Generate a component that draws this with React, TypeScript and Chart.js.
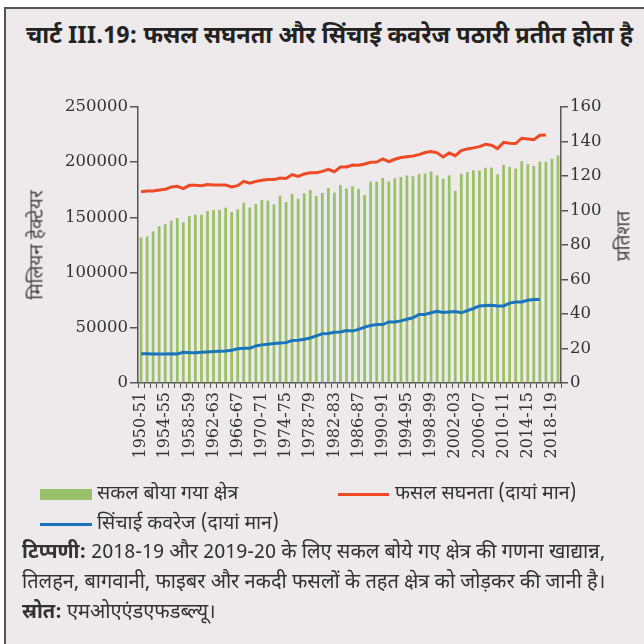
import React, { useEffect, useRef } from "react";
import { Chart, registerables } from "chart.js";

Chart.register(...registerables);

const years: string[] = [
  "1950-51", "1951-52", "1952-53", "1953-54", "1954-55", "1955-56", "1956-57", "1957-58", "1958-59", "1959-60",
  "1960-61", "1961-62", "1962-63", "1963-64", "1964-65", "1965-66", "1966-67", "1967-68", "1968-69", "1969-70",
  "1970-71", "1971-72", "1972-73", "1973-74", "1974-75", "1975-76", "1976-77", "1977-78", "1978-79", "1979-80",
  "1980-81", "1981-82", "1982-83", "1983-84", "1984-85", "1985-86", "1986-87", "1987-88", "1988-89", "1989-90",
  "1990-91", "1991-92", "1992-93", "1993-94", "1994-95", "1995-96", "1996-97", "1997-98", "1998-99", "1999-00",
  "2000-01", "2001-02", "2002-03", "2003-04", "2004-05", "2005-06", "2006-07", "2007-08", "2008-09", "2009-10",
  "2010-11", "2011-12", "2012-13", "2013-14", "2014-15", "2015-16", "2016-17", "2017-18", "2018-19", "2019-20",
];

// सकल बोया गया क्षेत्र (left axis)
const grossSownArea: number[] = [
  131800, 132750, 137300, 142150, 143950, 147000, 149400, 145450, 151250, 152400,
  152400, 155750, 156700, 156700, 158800, 154850, 157300, 163350, 159100, 162150,
  165800, 165150, 161800, 169700, 163950, 171250, 167000, 171800, 174850, 169400,
  172150, 176700, 172450, 179400, 176050, 178200, 176050, 170300, 182450, 182450,
  185750, 182450, 185450, 186650, 187900, 187300, 189400, 189700, 191500, 188200,
  185150, 187900, 173950, 189400, 190900, 192700, 192450, 194850, 195150, 189100,
  197600, 195750, 194250, 200900, 198200, 196650, 200600, 200300, 203050, 206050,
];

// फसल सघनता (right axis)
const cropIntensity: (number | null)[] = [
  110.9, 111.3, 111.3, 111.9, 112.3, 113.6, 114.0, 112.7, 114.6, 114.6,
  114.4, 115.0, 114.8, 114.8, 114.8, 113.6, 114.4, 116.9, 115.9, 116.9,
  117.5, 117.9, 117.9, 118.8, 118.6, 120.8, 119.8, 121.2, 121.9, 121.9,
  122.7, 123.9, 122.5, 125.2, 125.2, 126.4, 126.3, 127.0, 128.0, 128.1,
  129.9, 128.3, 129.7, 130.7, 131.2, 131.6, 132.4, 133.6, 134.2, 133.4,
  131.0, 133.3, 131.8, 134.7, 135.7, 136.3, 137.0, 138.4, 137.8, 135.9,
  139.5, 139.0, 138.8, 141.9, 141.5, 141.1, 143.6, 143.8, null, null,
];

// सिंचाई कवरेज (right axis)
const irrigationCoverage: (number | null)[] = [
  17.0, 17.0, 16.8, 16.8, 16.8, 17.0, 16.8, 17.8, 17.6, 17.6,
  17.8, 18.0, 18.2, 18.4, 18.6, 19.0, 19.8, 20.1, 20.1, 21.5,
  22.1, 22.5, 22.9, 23.2, 23.4, 24.6, 24.8, 25.4, 26.1, 27.3,
  28.5, 28.7, 29.4, 29.6, 30.4, 30.1, 31.1, 32.4, 33.3, 33.9,
  33.9, 35.4, 35.4, 36.0, 37.0, 37.8, 39.7, 39.7, 40.7, 41.6,
  40.9, 41.2, 41.4, 40.7, 42.0, 43.2, 44.7, 44.9, 45.1, 44.7,
  44.7, 46.3, 46.9, 47.0, 48.0, 48.4, 48.4, null, null, null,
];

const leftTicks: number[] = [0, 50000, 100000, 150000, 200000, 250000];
const rightTicks: number[] = [0, 20, 40, 60, 80, 100, 120, 140, 160];

const hindi = "'Liberation Sans Narrow', 'Noto Sans Devanagari', 'Lohit Devanagari', 'FreeSans', 'Noto Sans', sans-serif";
const GREEN = "#98c16a";
const RED = "#ef4a24";
const BLUE = "#1874bd";
const AXIS = "#555555";
const TXT = "#333333";

export default function App() {
  const ref = useRef<HTMLCanvasElement | null>(null);

  useEffect(() => {
    if (!ref.current) return;
    const tickFont = { family: "'DejaVu Serif', serif", size: 16 };
    const chart = new Chart(ref.current, {
      type: "bar",
      data: {
        labels: years,
        datasets: [
          {
            type: "line",
            label: "फसल सघनता (दायां मान)",
            data: cropIntensity,
            borderColor: RED,
            backgroundColor: RED,
            borderWidth: 3,
            pointRadius: 0,
            tension: 0,
            yAxisID: "y1",
            order: 0,
          },
          {
            type: "line",
            label: "सिंचाई कवरेज (दायां मान)",
            data: irrigationCoverage,
            borderColor: BLUE,
            backgroundColor: BLUE,
            borderWidth: 3,
            pointRadius: 0,
            tension: 0,
            yAxisID: "y1",
            order: 0,
          },
          {
            type: "bar",
            label: "सकल बोया गया क्षेत्र",
            data: grossSownArea,
            backgroundColor: GREEN,
            barPercentage: 0.45,
            categoryPercentage: 1,
            yAxisID: "y",
            order: 1,
          },
        ],
      },
      options: {
        responsive: false,
        animation: false,
        layout: { padding: { top: 107, left: 0, right: 0, bottom: 161 } },
        plugins: { legend: { display: false }, tooltip: { enabled: false } },
        scales: {
          x: {
            grid: { drawOnChartArea: false, tickLength: 5, color: AXIS, lineWidth: 1, offset: true },
            border: { color: AXIS, width: 1.5 },
            ticks: {
              autoSkip: false,
              maxRotation: 90,
              minRotation: 90,
              padding: 4,
              color: TXT,
              font: tickFont,
              callback: (_v: any, i: number) => (i % 4 === 0 ? years[i] : ""),
            },
            afterFit: (s: any) => {
              s.height = 100;
            },
          },
          y: {
            position: "left",
            min: 0,
            max: 250000,
            afterBuildTicks: (s: any) => {
              s.ticks = leftTicks.map((v) => ({ value: v }));
            },
            grid: { drawOnChartArea: false, tickLength: 8, color: AXIS, lineWidth: 1.5 },
            border: { color: AXIS, width: 1.5 },
            ticks: { color: TXT, font: { family: "'DejaVu Serif', serif", size: 16.5 }, padding: 2, callback: (v: any) => String(v) },
            afterFit: (s: any) => {
              s.width = 138;
            },
          },
          y1: {
            position: "right",
            min: 0,
            max: 160,
            afterBuildTicks: (s: any) => {
              s.ticks = rightTicks.map((v) => ({ value: v }));
            },
            grid: { drawOnChartArea: false, tickLength: 7, color: AXIS, lineWidth: 1.5 },
            border: { color: AXIS, width: 1.5 },
            ticks: { color: TXT, font: { family: "'DejaVu Serif', serif", size: 16.5 }, padding: 2, callback: (v: any) => String(v) },
            afterFit: (s: any) => {
              s.width = 83;
            },
          },
        },
      },
    });
    return () => chart.destroy();
  }, []);

  const abs = (extra: React.CSSProperties): React.CSSProperties => ({
    position: "absolute",
    whiteSpace: "nowrap",
    fontFamily: hindi,
    color: TXT,
    ...extra,
  });

  return (
    <div style={{ position: "absolute", left: 0, top: 0, width: 644, height: 644, background: "#ffffff", overflow: "hidden" }}>
      <div
        style={{
          position: "absolute",
          left: 4,
          top: 7,
          width: 660,
          height: 660,
          background: "#eee9eb",
          borderLeft: "2px solid #555",
          borderTop: "2px solid #555",
        }}
      />
      <div style={abs({ left: 26, top: 22, fontSize: 23.5, fontWeight: "bold", color: "#222" })}>
        चार्ट III.19: फसल सघनता और सिंचाई कवरेज पठारी प्रतीत होता है
      </div>
      <canvas ref={ref} width={644} height={644} style={{ position: "absolute", left: 0, top: 0, width: 644, height: 644 }} />
      <div style={abs({ left: 38, top: 245, fontSize: 19, color: "#444", transform: "translate(-50%, -50%) rotate(-90deg)" })}>
        मिलियन हेक्टेयर
      </div>
      <div style={abs({ left: 625, top: 236, fontSize: 19, color: "#444", transform: "translate(-50%, -50%) rotate(-90deg)" })}>
        प्रतिशत
      </div>
      {/* legend */}
      <div style={{ position: "absolute", left: 40, top: 489, width: 52, height: 11, background: GREEN }} />
      <div style={abs({ left: 97, top: 482, fontSize: 19.5 })}>सकल बोया गया क्षेत्र</div>
      <div style={{ position: "absolute", left: 338, top: 493, width: 51, height: 3, background: RED }} />
      <div style={abs({ left: 395, top: 482, fontSize: 19.5 })}>फसल सघनता (दायां मान)</div>
      <div style={{ position: "absolute", left: 40, top: 523, width: 52, height: 3, background: BLUE }} />
      <div style={abs({ left: 97, top: 512, fontSize: 19.5 })}>सिंचाई कवरेज (दायां मान)</div>
      {/* notes */}
      <div style={abs({ left: 22, top: 540, fontSize: 20 })}>
        <b>टिप्पणी:</b> 2018-19 और 2019-20 के लिए सकल बोये गए क्षेत्र की गणना खाद्यान्न,
      </div>
      <div style={abs({ left: 22, top: 570, fontSize: 20 })}>
        तिलहन, बागवानी, फाइबर और नकदी फसलों के तहत क्षेत्र को जोड़कर की जानी है।
      </div>
      <div style={abs({ left: 22, top: 600, fontSize: 20 })}>
        <b>स्रोत:</b> एमओएएंडएफडब्ल्यू।
      </div>
    </div>
  );
}
